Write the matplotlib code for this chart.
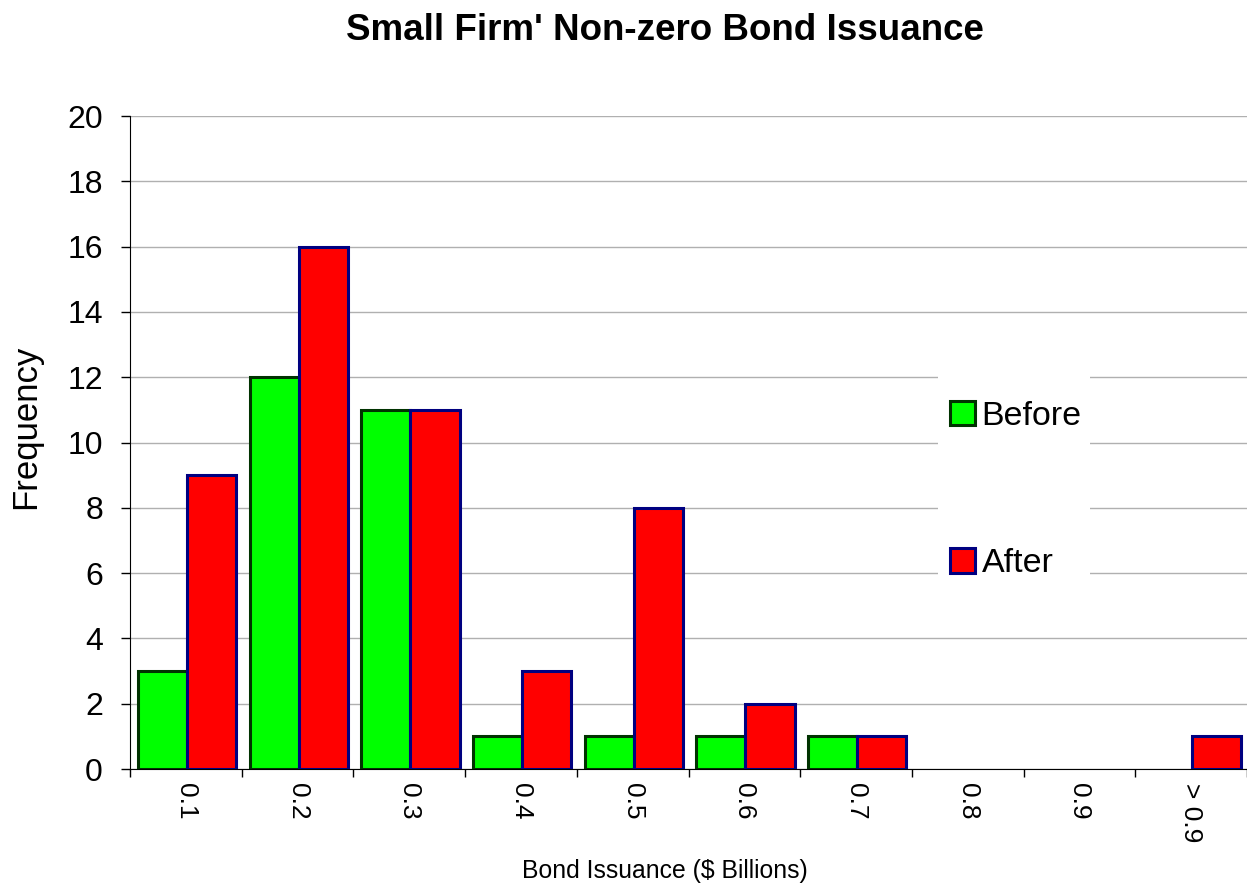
import numpy as np
import matplotlib
matplotlib.use("Agg")
import matplotlib.pyplot as plt
from matplotlib.patches import Rectangle

plt.rcParams["font.family"] = ["Liberation Sans", "DejaVu Sans"]

# Data
categories = ["0.1", "0.2", "0.3", "0.4", "0.5", "0.6", "0.7", "0.8", "0.9", "> 0.9"]
before = [3, 12, 11, 1, 1, 1, 1, 0, 0, 0]
after = [9, 16, 11, 3, 8, 2, 1, 0, 0, 1]

fig = plt.figure(figsize=(12.47, 8.94), dpi=100, facecolor="white")
ax = fig.add_axes([0.1043, 0.1398, 0.8957, 0.7304])

x = np.arange(len(categories))
bw = 0.44
b = np.array(before)
a = np.array(after)
# zero-count bins are not drawn at all
ax.bar(x[b > 0] + 0.07, b[b > 0], width=bw, align="edge", color="#00ff00",
       edgecolor="#003300", linewidth=2.2, label="Before", zorder=3)
ax.bar(x[a > 0] + 0.07 + bw, a[a > 0], width=bw, align="edge", color="#ff0000",
       edgecolor="#000080", linewidth=2.2, label="After", zorder=3)

ax.set_xlim(0, len(categories))
ax.set_ylim(0, 20)
ax.set_yticks(np.arange(0, 21, 2))
ax.yaxis.grid(True, color="#b0b0b0", linewidth=1.0, zorder=0)
ax.tick_params(axis="y", labelsize=23, length=6.5, width=1, direction="out", pad=13)

# category boundary ticks, labels in the middle
ax.set_xticks(np.arange(0, len(categories) + 1))
ax.set_xticklabels([])
ax.tick_params(axis="x", which="major", length=6, width=1, direction="out")
ax.set_xticks(x + 0.5, minor=True)
ax.set_xticklabels(categories, minor=True, rotation=270, fontsize=19)
ax.tick_params(axis="x", which="minor", length=0, pad=10)

for s in ["top", "right"]:
    ax.spines[s].set_visible(False)
ax.spines["left"].set_color("black")
ax.spines["bottom"].set_color("black")

ax.set_ylabel("Frequency", fontsize=25, labelpad=18)
ax.yaxis.label.set_y(0.524)
ax.set_xlabel("Bond Issuance ($ Billions)", fontsize=17.8, labelpad=12)
ax.xaxis.label.set_x(0.479)
fig.suptitle("Small Firm' Non-zero Bond Issuance", fontsize=26.5,
             fontweight="bold", x=0.533, y=0.985)

# white legend background that interrupts the gridlines
ax.add_patch(Rectangle((0.7234, 0.251), 0.136, 0.398, transform=ax.transAxes,
                       facecolor="white", edgecolor="none", zorder=2))
leg = ax.legend(loc="upper left", bbox_to_anchor=(0.734, 0.564), fontsize=24.5,
                frameon=False, borderpad=0, borderaxespad=0, labelspacing=3.42,
                handlelength=0.73, handleheight=0.73, handletextpad=0.2)

fig.savefig("out.png", dpi=100, facecolor="white")
